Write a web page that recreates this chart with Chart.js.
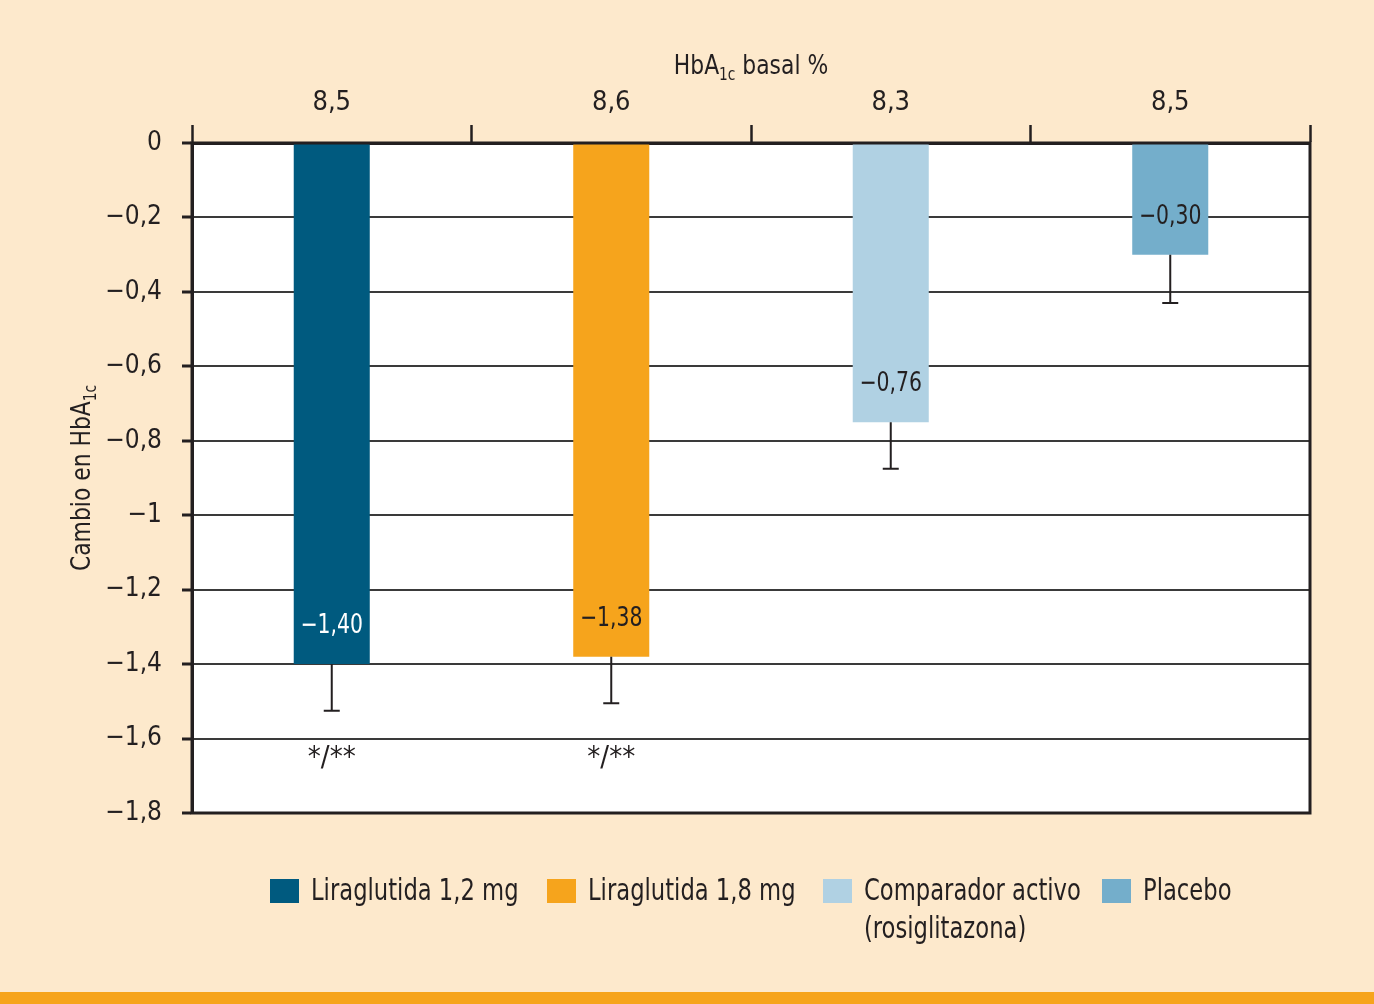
<!DOCTYPE html>
<html>
<head>
<meta charset="utf-8">
<script src="https://cdn.jsdelivr.net/npm/chart.js@4"></script>
<style>
  html, body { margin: 0; padding: 0; background: #fde9cc; }
  #wrap { position: relative; width: 1374px; height: 1004px; overflow: hidden; }
  #chart { position: absolute; left: 0; top: 0; }
  #stripe { position: absolute; left: 0; top: 992px; width: 1374px; height: 12px; background: #f6a41c; }
  .leg { position: absolute; top: 871px; font-family: 'DejaVu Sans Condensed', 'Liberation Sans Narrow', sans-serif;
         font-size: 30px; line-height: 38px; color: #231f20; }
  .leg span.sw { position: absolute; left: 0; top: 8px; width: 29px; height: 24px; }
  .leg span.tx { position: absolute; left: 41px; top: 0; white-space: nowrap; transform: scaleX(0.84); transform-origin: 0 0; }
</style>
</head>
<body>
<div id="wrap">
  <canvas id="chart" width="1374" height="1004"></canvas>
  <div id="legend"></div>
  <div id="stripe"></div>
</div>
<script>
console.clear();

// data
const categories = ['Liraglutida 1,2 mg', 'Liraglutida 1,8 mg', 'Comparador activo\n(rosiglitazona)', 'Placebo'];
const basal = ['8,5', '8,6', '8,3', '8,5'];
const change = [-1.40, -1.38, -0.75, -0.30];
const changeText = ['\u22121,40', '\u22121,38', '\u22120,76', '\u22120,30'];
const errLow = [-1.525, -1.505, -0.875, -0.43];
const marks = ['*/**', '*/**', '', ''];
const colors = ['#005a7f', '#f6a41c', '#b0d1e3', '#74aecb'];

const FONT = "'DejaVu Sans Condensed', 'Liberation Sans Narrow', sans-serif";
const INK = '#231f20';
const SQ = 0.84; // horizontal squeeze to mimic the narrow original face

// legend (html so the two-line label wraps like the original)
const legX = [270, 547, 823, 1102];
const legend = document.getElementById('legend');
categories.forEach((c, i) => {
  const d = document.createElement('div');
  d.className = 'leg';
  d.style.left = legX[i] + 'px';
  d.innerHTML = '<span class="sw" style="background:' + colors[i] + '"></span><span class="tx">' +
    c.replace('\n', '<br>') + '</span>';
  legend.appendChild(d);
});

function fmt(v) {
  const r = Math.round(v * 10) / 10;
  if (r === 0) return '0';
  let s = Math.abs(r).toString().replace('.', ',');
  return (r < 0 ? '\u2212' : '') + s;
}

// squeezed text, centred on x
function narrowText(ctx, txt, x, y, sq) {
  ctx.save();
  ctx.translate(x, y);
  ctx.scale(sq, 1);
  ctx.fillText(txt, 0, 0);
  ctx.restore();
}

// text with a "1c" subscript after HbA
function subText(ctx, parts, x, y, size) {
  const big = size + 'px ' + FONT, small = Math.round(size * 0.62) + 'px ' + FONT;
  let w = 0;
  parts.forEach(p => { ctx.font = p[1] ? small : big; w += ctx.measureText(p[0]).width; });
  ctx.save();
  ctx.translate(x, y);
  ctx.scale(0.9, 1);
  let cx = -w / 2;
  ctx.textAlign = 'left';
  ctx.textBaseline = 'alphabetic';
  parts.forEach(p => {
    ctx.font = p[1] ? small : big;
    ctx.fillText(p[0], cx, p[1] ? 6 : 0);
    cx += ctx.measureText(p[0]).width;
  });
  ctx.restore();
}

const extras = {
  id: 'extras',
  beforeDraw(chart) {
    const { ctx, chartArea: a } = chart;
    ctx.save();
    ctx.fillStyle = '#ffffff';
    ctx.fillRect(a.left, a.top, a.right - a.left, a.bottom - a.top);
    ctx.restore();
  },
  afterDatasetsDraw(chart) {
    const { ctx, chartArea: a, scales: { x, y } } = chart;
    const meta = chart.getDatasetMeta(0);
    ctx.save();
    // error bars
    ctx.strokeStyle = INK;
    ctx.lineWidth = 2;
    meta.data.forEach((bar, i) => {
      const px = bar.x;
      const y0 = y.getPixelForValue(change[i]);
      const y1 = y.getPixelForValue(errLow[i]);
      ctx.beginPath();
      ctx.moveTo(px, y0);
      ctx.lineTo(px, y1);
      ctx.moveTo(px - 8, y1);
      ctx.lineTo(px + 8, y1);
      ctx.stroke();
    });
    // value labels inside bars
    ctx.textAlign = 'center';
    ctx.textBaseline = 'middle';
    meta.data.forEach((bar, i) => {
      ctx.font = '27px ' + FONT;
      ctx.fillStyle = i === 0 ? '#ffffff' : INK;
      narrowText(ctx, changeText[i], bar.x, y.getPixelForValue(change[i]) - 38, SQ);
      if (marks[i]) {
        ctx.font = '29px ' + FONT;
        ctx.fillStyle = INK;
        narrowText(ctx, marks[i], bar.x, y.getPixelForValue(-1.6) + 20, 1);
      }
    });
    // frame
    ctx.strokeStyle = INK;
    ctx.lineWidth = 3;
    ctx.strokeRect(a.left, a.top, a.right - a.left, a.bottom - a.top);
    // titles
    ctx.fillStyle = INK;
    subText(ctx, [['HbA', false], ['1c', true], [' basal %', false]], 751, 74, 27);
    ctx.translate(90, (a.top + a.bottom) / 2);
    ctx.rotate(-Math.PI / 2);
    subText(ctx, [['Cambio en HbA', false], ['1c', true]], 0, 0, 27);
    ctx.restore();
  }
};

new Chart(document.getElementById('chart').getContext('2d'), {
  type: 'bar',
  data: {
    labels: categories,
    datasets: [{
      data: change,
      backgroundColor: colors,
      borderWidth: 0,
      barPercentage: 0.272,
      categoryPercentage: 1,
    }],
  },
  options: {
    responsive: false,
    animation: false,
    devicePixelRatio: 1,
    layout: { padding: { top: 0, left: 0, right: 64, bottom: 191 } },
    plugins: { legend: { display: false }, tooltip: { enabled: false } },
    scales: {
      x: {
        position: 'top',
        offset: true,
        afterFit(s) { s.height = 143; },
        grid: { offset: true, drawOnChartArea: false, drawTicks: true, tickLength: 18, tickWidth: 2.5, tickColor: INK },
        border: { display: true, color: INK, width: 3 },
        ticks: {
          padding: 6,
          color: INK,
          font: { family: FONT, size: 27 },
          callback: (v, i) => basal[i],
        },
      },
      y: {
        min: -1.8,
        max: 0,
        afterFit(s) { s.width = 192; },
        grid: { color: '#3a3a3a', lineWidth: 2, drawTicks: true, tickLength: 10, tickWidth: 3, tickColor: INK },
        border: { display: true, color: INK, width: 3 },
        ticks: {
          stepSize: 0.2,
          padding: 20,
          color: INK,
          font: { family: FONT, size: 26 },
          callback: v => fmt(v),
        },
      },
    },
  },
  plugins: [extras],
});
</script>
</body>
</html>
